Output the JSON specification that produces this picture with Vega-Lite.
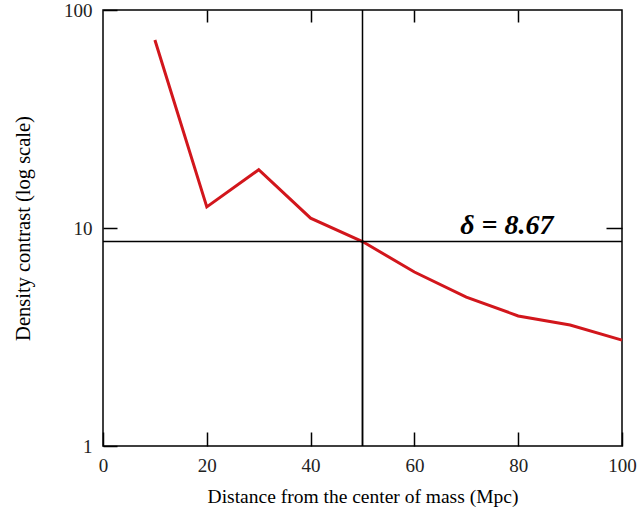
{
  "$schema": "https://vega.github.io/schema/vega-lite/v6.json",
  "width": 519,
  "height": 436,
  "autosize": "none",
  "padding": {"left": 103, "top": 10, "right": 19, "bottom": 68},
  "background": "white",
  "config": {
    "view": {"stroke": "black", "strokeWidth": 1.5},
    "font": "Liberation Serif",
    "axis": {
      "labelFont": "Liberation Serif",
      "titleFont": "Liberation Serif",
      "labelFontSize": 19,
      "titleFontSize": 19.5,
      "titleFontWeight": "normal",
      "labelColor": "#222222",
      "titleColor": "black",
      "tickColor": "black",
      "tickWidth": 1.5,
      "grid": false,
      "domain": false,
      "labelFlush": false
    }
  },
  "datasets": {
    "profile": [
      {"distance": 10, "contrast": 72.8},
      {"distance": 20, "contrast": 12.5},
      {"distance": 30, "contrast": 18.5},
      {"distance": 40, "contrast": 11.1},
      {"distance": 50, "contrast": 8.67},
      {"distance": 60, "contrast": 6.28},
      {"distance": 70, "contrast": 4.82},
      {"distance": 80, "contrast": 3.95},
      {"distance": 90, "contrast": 3.59},
      {"distance": 100, "contrast": 3.06}
    ],
    "marker": [
      {"distance": 50, "contrast": 8.67, "labelx": 77.8, "label": "δ = 8.67"}
    ]
  },
  "layer": [
    {
      "data": {"name": "profile"},
      "mark": {"type": "line", "color": "#d2161c", "strokeWidth": 3},
      "encoding": {
        "x": {
          "field": "distance", "type": "quantitative",
          "scale": {"domain": [0, 100], "nice": false},
          "axis": {"orient": "bottom", "values": [0, 20, 40, 60, 80, 100], "tickSize": -14, "labelPadding": 24, "labelFlush": false, "title": "Distance from the center of mass (Mpc)", "titlePadding": 12}
        },
        "y": {
          "field": "contrast", "type": "quantitative",
          "scale": {"type": "log", "domain": [1, 100], "nice": false},
          "axis": {"orient": "left", "values": [1, 10, 100], "format": "~g", "tickSize": -14, "labelPadding": 25, "labelFlush": false, "title": "Density contrast (log scale)", "titleFontSize": 20.5, "titlePadding": 30}
        }
      }
    },
    {
      "data": {"name": "marker"},
      "mark": {"type": "rule", "color": "black", "strokeWidth": 1.5},
      "encoding": {
        "x": {
          "field": "distance", "type": "quantitative",
          "axis": {"orient": "top", "values": [20, 40, 60, 80], "tickSize": -12, "labels": false, "title": null}
        },
        "y": {
          "field": "contrast", "type": "quantitative",
          "axis": {"orient": "right", "values": [10], "tickSize": -16, "labels": false, "title": null}
        }
      }
    },
    {
      "data": {"name": "marker"},
      "mark": {"type": "rule", "color": "black", "strokeWidth": 1.5},
      "encoding": {
        "y": {"field": "contrast", "type": "quantitative", "axis": null}
      }
    },
    {
      "data": {"name": "marker"},
      "mark": {"type": "rule", "color": "black", "strokeWidth": 1.5},
      "encoding": {
        "x": {"field": "distance", "type": "quantitative", "axis": null}
      }
    },
    {
      "data": {"name": "marker"},
      "mark": {"type": "text", "font": "Liberation Serif", "fontSize": 28, "fontWeight": "bold", "fontStyle": "italic", "color": "black", "align": "center", "baseline": "alphabetic", "dy": -8},
      "encoding": {
        "x": {"field": "labelx", "type": "quantitative", "axis": null},
        "y": {"field": "contrast", "type": "quantitative", "axis": null},
        "text": {"field": "label"}
      }
    }
  ],
  "resolve": {"axis": {"x": "independent", "y": "independent"}}
}
